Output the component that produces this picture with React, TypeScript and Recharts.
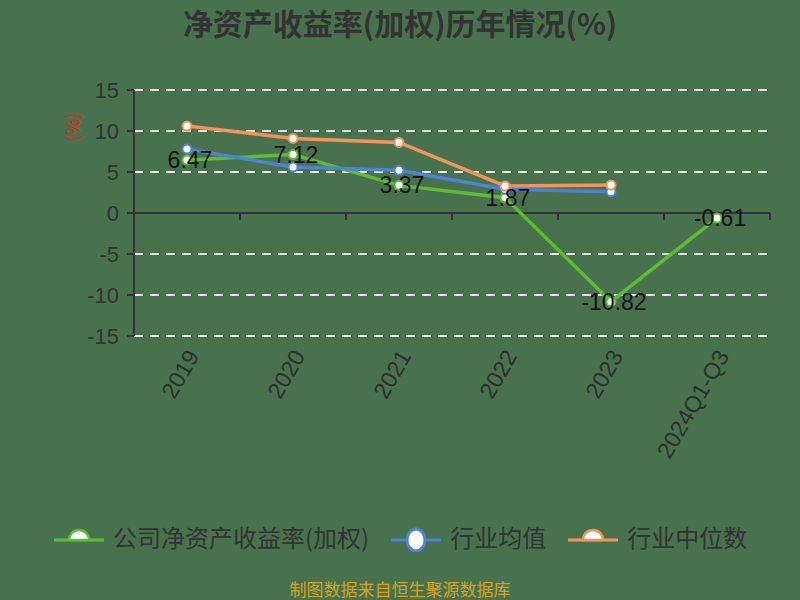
import React from "react";
import {
  LineChart,
  Line,
  XAxis,
  YAxis,
  CartesianGrid,
  ReferenceLine,
  LabelList,
} from "recharts";

const categories = ["2019", "2020", "2021", "2022", "2023", "2024Q1-Q3"];
const companyRoe = [6.47, 7.12, 3.37, 1.87, -10.82, -0.61];
const industryAvg = [7.8, 5.6, 5.2, 2.9, 2.6, null];
const industryMedian = [10.6, 9.1, 8.6, 3.3, 3.4, null];
const yTicks = [-15, -10, -5, 0, 5, 10, 15];

const series = [
  { key: "company", name: "公司净资产收益率(加权)", color: "#5cbd32", half: true },
  { key: "avg", name: "行业均值", color: "#4d82d6", half: false },
  { key: "median", name: "行业中位数", color: "#f3935c", half: true },
];

const data = categories.map((c, i) => ({
  name: c,
  company: companyRoe[i],
  avg: industryAvg[i],
  median: industryMedian[i],
}));

const FONT = '"Liberation Sans", "Noto Sans CJK SC", sans-serif';
const CJK = '"Noto Sans CJK SC", sans-serif';
const BG = "#48724e";

function XTick({ x, y, payload }: any) {
  return (
    <text
      transform={`translate(${x + 6},${y + 8}) rotate(-60)`}
      textAnchor="end"
      dominantBaseline="central"
      fontSize={23}
      fill="#2f2f2f"
      fontFamily={FONT}
    >
      {payload.value}
    </text>
  );
}

function ZeroAxis(props: any) {
  const { x1, x2, y1 } = props;
  const n = categories.length;
  const step = (x2 - x1) / n;
  return (
    <g>
      <line x1={x1} x2={x2} y1={y1} y2={y1} stroke="#333" strokeWidth={2} />
      {categories.map((_, i) => (
        <line
          key={i}
          x1={x1 + step * (i + 1)}
          x2={x1 + step * (i + 1)}
          y1={y1}
          y2={y1 + 7}
          stroke="#333"
          strokeWidth={2}
        />
      ))}
    </g>
  );
}

function ValueLabel({ x, y, value }: any) {
  if (value == null) return null;
  return (
    <text
      x={x + 3}
      y={y}
      dy={8}
      textAnchor="middle"
      fontSize={23}
      fill="#111"
      fontFamily={FONT}
    >
      {value}
    </text>
  );
}

function LegendIcon({ color, half }: { color: string; half: boolean }) {
  return (
    <svg width={54} height={30} style={{ display: "block" }}>
      <line x1={2} x2={52} y1={18} y2={18} stroke={color} strokeWidth={3} />
      {half ? (
        <path
          d="M17 18 A10 10 0 0 1 37 18 Z"
          fill="#fff"
          stroke={color}
          strokeWidth={2.5}
        />
      ) : (
        <ellipse cx={27} cy={18} rx={9} ry={11} fill="#fff" stroke={color} strokeWidth={3} />
      )}
    </svg>
  );
}

export default function App() {
  return (
    <div
      style={{
        position: "absolute",
        left: 0,
        top: 0,
        width: 800,
        height: 600,
        background: BG,
        fontFamily: FONT,
        overflow: "hidden",
      }}
    >
      <div
        style={{
          position: "absolute",
          top: 0,
          left: 0,
          width: 800,
          textAlign: "center",
          fontSize: 30,
          fontWeight: "bold",
          color: "#333",
          fontFamily: CJK,
        }}
      >
        净资产收益率(加权)历年情况(%)
      </div>
      <div
        style={{
          position: "absolute",
          left: 72,
          top: 127,
          transform: "translate(-50%, -50%) rotate(-90deg)",
          fontSize: 18,
          color: "#e0261c",
          fontFamily: CJK,
        }}
      >
        (%)
      </div>
      <LineChart
        width={800}
        height={600}
        data={data}
        margin={{ top: 90, right: 30, bottom: 224, left: 74 }}
      >
        <CartesianGrid
          vertical={false}
          stroke="#e6e6e6"
          strokeWidth={2}
          strokeDasharray="9 7"
        />
        <XAxis
          dataKey="name"
          axisLine={false}
          tickLine={false}
          height={40}
          interval={0}
          padding={{ left: 53, right: 53 }}
          tick={<XTick />}
        />
        <YAxis
          domain={[-15, 15]}
          ticks={yTicks}
          width={60}
          interval={0}
          axisLine={{ stroke: "#333", strokeWidth: 2 }}
          tickLine={{ stroke: "#333", strokeWidth: 2 }}
          tickSize={7}
          tickMargin={8}
          tick={{ fontSize: 22, fill: "#333", fontFamily: FONT }}
        />
        <ReferenceLine y={0} shape={<ZeroAxis />} />
        {series.map((s) => (
          <Line
            key={s.key}
            dataKey={s.key}
            name={s.name}
            stroke={s.color}
            strokeWidth={3.5}
            dot={{ r: 4.5, fill: "#fff", stroke: s.color, strokeWidth: 2 }}
            activeDot={false}
            isAnimationActive={false}
          >
            {s.key === "company" ? (
              <LabelList dataKey="company" content={<ValueLabel />} />
            ) : null}
          </Line>
        ))}
      </LineChart>
      <div
        style={{
          position: "absolute",
          top: 519,
          left: 52,
          display: "flex",
          alignItems: "center",
          fontSize: 24,
          color: "#333",
          fontFamily: CJK,
        }}
      >
        {series.map((s) => (
          <div
            key={s.key}
            style={{ display: "flex", alignItems: "center", marginRight: 20 }}
          >
            <LegendIcon color={s.color} half={s.half} />
            <span style={{ marginLeft: 7 }}>{s.name}</span>
          </div>
        ))}
      </div>
      <div
        style={{
          position: "absolute",
          top: 580,
          left: 0,
          width: 800,
          textAlign: "center",
          fontSize: 17,
          lineHeight: "18px",
          color: "#d9a21c",
          fontFamily: CJK,
        }}
      >
        制图数据来自恒生聚源数据库
      </div>
    </div>
  );
}
